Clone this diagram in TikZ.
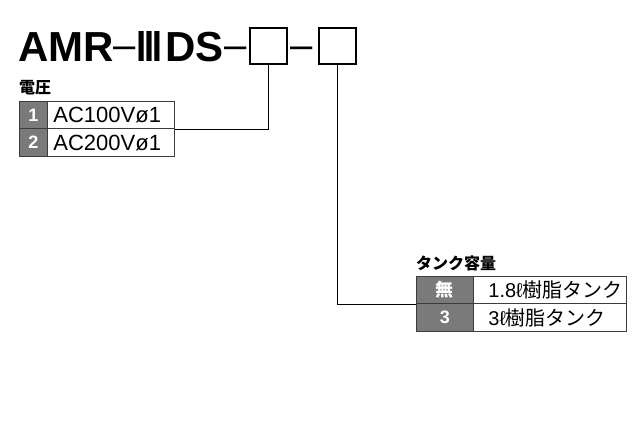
\documentclass[tikz,border=0pt]{standalone}
\usepackage{fontspec}
\setmainfont{Liberation Sans}
\newfontfamily\cjk{Noto Sans CJK JP}
\newfontfamily\numeralfont{DejaVu Sans}
\definecolor{numgray}{RGB}{122,122,122}
\definecolor{rulegray}{RGB}{60,60,60}
\tikzset{
  titletext/.style={font=\bfseries\fontsize{42}{42}\selectfont,inner sep=0pt,anchor=base west},
  dashmark/.style={font=\fontsize{40}{40}\selectfont,inner sep=0pt,anchor=base},
  numcell/.style={fill=numgray,draw=rulegray,line width=0.8pt,text=white,inner sep=0pt,
    font=\bfseries\fontsize{18}{18}\selectfont,anchor=north west},
  itemcell/.style={draw=rulegray,line width=0.8pt,inner sep=0pt,align=left,anchor=north west},
  partbox/.style={draw,line width=2.2pt,minimum width=37pt,minimum height=36pt,inner sep=0pt,anchor=north west},
  caption/.style={font=\cjk\bfseries\fontsize{16}{16}\selectfont,inner sep=0pt,anchor=west},
  leader/.style={line width=0.9pt}
}
\begin{document}
\begin{tikzpicture}[x=1pt,y=-1pt]
  \useasboundingbox (0,0) rectangle (640,435);
  \node[titletext] (amr) at (18,62) {AMR};
  \node[dashmark] (d1) at (124.5,59) {–};
  \node[titletext,font=\numeralfont\bfseries\fontsize{42}{42}\selectfont] (gen) at (136,62) {\resizebox{26pt}{30pt}{Ⅲ}};
  \node[titletext] (ds) at (165,62) {DS};
  \node[dashmark] (d2) at (235.5,59) {–};
  \node[partbox] (volt) at (249,27) {};
  \node[dashmark] (d3) at (302,59) {–};
  \node[partbox] (tank) at (317.5,27) {};

  \node[caption] (vcap) at (19,88) {電圧};
  \node[numcell,minimum width=28pt,minimum height=27.5pt] (v1num) at (19,101) {1};
  \node[itemcell,minimum width=127pt,minimum height=27.5pt,text width=127pt,font=\fontsize{22}{22}\selectfont] (v1txt) at (47,101) {\hspace*{6pt}AC100Vø1};
  \node[numcell,minimum width=28pt,minimum height=27.5pt] (v2num) at (19,128.5) {2};
  \node[itemcell,minimum width=127pt,minimum height=27.5pt,text width=127pt,font=\fontsize{22}{22}\selectfont] (v2txt) at (47,128.5) {\hspace*{6pt}AC200Vø1};

  \node[caption] (tcap) at (416,263) {タンク容量};
  \node[numcell,minimum width=57pt,minimum height=27.5pt,font=\cjk\bfseries\fontsize{18}{18}\selectfont] (t1num) at (416,276) {無};
  \node[itemcell,minimum width=153pt,minimum height=27.5pt,text width=153pt,font=\fontsize{20}{20}\selectfont] (t1txt) at (473,276) {\hspace*{15pt}1.8ℓ{\cjk 樹脂タンク}};
  \node[numcell,minimum width=57pt,minimum height=27.5pt] (t2num) at (416,303.5) {3};
  \node[itemcell,minimum width=153pt,minimum height=27.5pt,text width=153pt,font=\fontsize{20}{20}\selectfont] (t2txt) at (473,303.5) {\hspace*{15pt}3ℓ{\cjk 樹脂タンク}};

  \draw[leader] (volt.south) |- (v1txt.south east);
  \draw[leader] (tank.south) |- (t1num.south west);
\end{tikzpicture}
\end{document}
